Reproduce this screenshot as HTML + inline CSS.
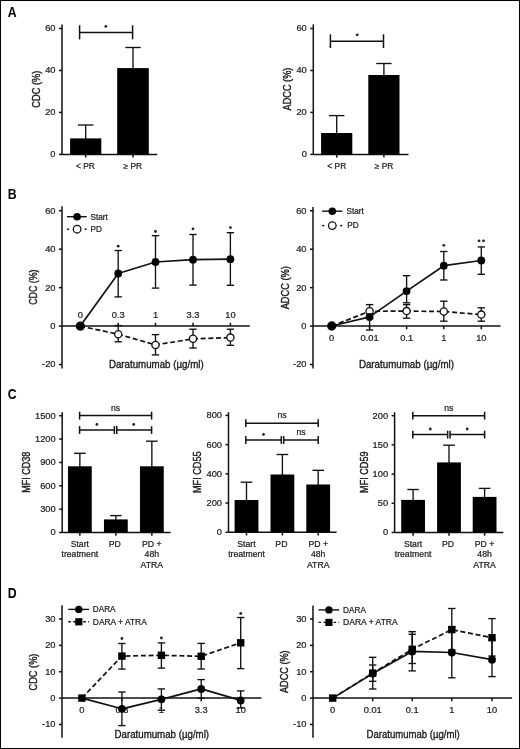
<!DOCTYPE html>
<html><head><meta charset="utf-8"><title>Figure</title>
<style>
html,body{margin:0;padding:0;background:#fff;}
body{width:520px;height:749px;overflow:hidden;}
svg{display:block;will-change:transform;font-family:"Liberation Sans",sans-serif;}
text{stroke:#1a1a1a;stroke-width:0.22px;}
</style></head><body>
<svg width="520" height="749" viewBox="0 0 520 749">
<rect x="0" y="0" width="520" height="749" fill="#fff"/>
<text transform="translate(7.8 16.8) scale(0.86 1)" font-size="14.3" font-weight="bold" fill="#000" style="stroke:none">A</text>
<text transform="translate(7.8 198.9) scale(0.86 1)" font-size="14.3" font-weight="bold" fill="#000" style="stroke:none">B</text>
<text transform="translate(7.8 399.3) scale(0.86 1)" font-size="14.3" font-weight="bold" fill="#000" style="stroke:none">C</text>
<text transform="translate(7.8 597.8) scale(0.86 1)" font-size="14.3" font-weight="bold" fill="#000" style="stroke:none">D</text>
<line x1="62" y1="24.4" x2="62" y2="154.4" stroke="#111" stroke-width="1.5" stroke-linecap="butt"/>
<line x1="59" y1="154.4" x2="62" y2="154.4" stroke="#111" stroke-width="1.5" stroke-linecap="butt"/>
<text x="55.5" y="157.28" font-size="9.3" text-anchor="end" fill="#1a1a1a">0</text>
<line x1="59" y1="112.43" x2="62" y2="112.43" stroke="#111" stroke-width="1.5" stroke-linecap="butt"/>
<text x="55.5" y="115.32" font-size="9.3" text-anchor="end" fill="#1a1a1a">20</text>
<line x1="59" y1="70.47" x2="62" y2="70.47" stroke="#111" stroke-width="1.5" stroke-linecap="butt"/>
<text x="55.5" y="73.35" font-size="9.3" text-anchor="end" fill="#1a1a1a">40</text>
<line x1="59" y1="28.5" x2="62" y2="28.5" stroke="#111" stroke-width="1.5" stroke-linecap="butt"/>
<text x="55.5" y="31.38" font-size="9.3" text-anchor="end" fill="#1a1a1a">60</text>
<line x1="62" y1="154.4" x2="157.2" y2="154.4" stroke="#111" stroke-width="1.5" stroke-linecap="butt"/>
<line x1="85.7" y1="154.4" x2="85.7" y2="157.6" stroke="#111" stroke-width="1.5" stroke-linecap="butt"/>
<line x1="85.7" y1="125" x2="85.7" y2="139.4" stroke="#111" stroke-width="1.35" stroke-linecap="butt"/>
<line x1="78" y1="125" x2="93.4" y2="125" stroke="#111" stroke-width="1.35" stroke-linecap="butt"/>
<rect x="70.1" y="138.4" width="31.2" height="16" fill="#000"/>
<line x1="133" y1="154.4" x2="133" y2="157.6" stroke="#111" stroke-width="1.5" stroke-linecap="butt"/>
<line x1="133" y1="47.5" x2="133" y2="69.1" stroke="#111" stroke-width="1.35" stroke-linecap="butt"/>
<line x1="125.3" y1="47.5" x2="140.7" y2="47.5" stroke="#111" stroke-width="1.35" stroke-linecap="butt"/>
<rect x="117.2" y="68.1" width="31.6" height="86.3" fill="#000"/>
<line x1="79.6" y1="32.4" x2="132.6" y2="32.4" stroke="#111" stroke-width="1.5" stroke-linecap="butt"/>
<line x1="79.6" y1="25.3" x2="79.6" y2="39.4" stroke="#111" stroke-width="1.5" stroke-linecap="butt"/>
<line x1="132.6" y1="25.3" x2="132.6" y2="39.4" stroke="#111" stroke-width="1.5" stroke-linecap="butt"/>
<circle cx="105.8" cy="26.4" r="1.4" fill="#222"/>
<text x="85.5" y="168.6" font-size="8.4" text-anchor="middle" fill="#1a1a1a">&lt; PR</text>
<text x="132.8" y="168.6" font-size="8.4" text-anchor="middle" fill="#1a1a1a">≥ PR</text>
<text x="39.92" y="89.2" font-size="10.8" text-anchor="middle" fill="#1a1a1a" textLength="37" lengthAdjust="spacingAndGlyphs" transform="rotate(-90 39.92 89.2)" style="stroke-width:0.4px">CDC (%)</text>
<line x1="313.3" y1="24.4" x2="313.3" y2="154.4" stroke="#111" stroke-width="1.5" stroke-linecap="butt"/>
<line x1="310.3" y1="154.4" x2="313.3" y2="154.4" stroke="#111" stroke-width="1.5" stroke-linecap="butt"/>
<text x="306.8" y="157.28" font-size="9.3" text-anchor="end" fill="#1a1a1a">0</text>
<line x1="310.3" y1="112.43" x2="313.3" y2="112.43" stroke="#111" stroke-width="1.5" stroke-linecap="butt"/>
<text x="306.8" y="115.32" font-size="9.3" text-anchor="end" fill="#1a1a1a">20</text>
<line x1="310.3" y1="70.47" x2="313.3" y2="70.47" stroke="#111" stroke-width="1.5" stroke-linecap="butt"/>
<text x="306.8" y="73.35" font-size="9.3" text-anchor="end" fill="#1a1a1a">40</text>
<line x1="310.3" y1="28.5" x2="313.3" y2="28.5" stroke="#111" stroke-width="1.5" stroke-linecap="butt"/>
<text x="306.8" y="31.38" font-size="9.3" text-anchor="end" fill="#1a1a1a">60</text>
<line x1="313.3" y1="154.4" x2="408.5" y2="154.4" stroke="#111" stroke-width="1.5" stroke-linecap="butt"/>
<line x1="336.7" y1="154.4" x2="336.7" y2="157.6" stroke="#111" stroke-width="1.5" stroke-linecap="butt"/>
<line x1="336.7" y1="115.6" x2="336.7" y2="134" stroke="#111" stroke-width="1.35" stroke-linecap="butt"/>
<line x1="329" y1="115.6" x2="344.4" y2="115.6" stroke="#111" stroke-width="1.35" stroke-linecap="butt"/>
<rect x="321.1" y="133" width="31.2" height="21.4" fill="#000"/>
<line x1="383.9" y1="154.4" x2="383.9" y2="157.6" stroke="#111" stroke-width="1.5" stroke-linecap="butt"/>
<line x1="383.9" y1="63.5" x2="383.9" y2="76" stroke="#111" stroke-width="1.35" stroke-linecap="butt"/>
<line x1="376.2" y1="63.5" x2="391.6" y2="63.5" stroke="#111" stroke-width="1.35" stroke-linecap="butt"/>
<rect x="368.3" y="75" width="31.2" height="79.4" fill="#000"/>
<line x1="330.4" y1="41.2" x2="383.5" y2="41.2" stroke="#111" stroke-width="1.5" stroke-linecap="butt"/>
<line x1="330.4" y1="34.3" x2="330.4" y2="48" stroke="#111" stroke-width="1.5" stroke-linecap="butt"/>
<line x1="383.5" y1="34.3" x2="383.5" y2="48" stroke="#111" stroke-width="1.5" stroke-linecap="butt"/>
<circle cx="357.2" cy="34.8" r="1.4" fill="#222"/>
<text x="336.8" y="168.6" font-size="8.4" text-anchor="middle" fill="#1a1a1a">&lt; PR</text>
<text x="384.1" y="168.6" font-size="8.4" text-anchor="middle" fill="#1a1a1a">≥ PR</text>
<text x="291.02" y="89" font-size="10.8" text-anchor="middle" fill="#1a1a1a" textLength="42.8" lengthAdjust="spacingAndGlyphs" transform="rotate(-90 291.02 89)" style="stroke-width:0.4px">ADCC (%)</text>
<line x1="62" y1="206.3" x2="62" y2="368.5" stroke="#111" stroke-width="1.5" stroke-linecap="butt"/>
<line x1="59" y1="364.55" x2="62" y2="364.55" stroke="#111" stroke-width="1.5" stroke-linecap="butt"/>
<text x="55.5" y="367.43" font-size="9.3" text-anchor="end" fill="#1a1a1a">-20</text>
<line x1="59" y1="326.1" x2="62" y2="326.1" stroke="#111" stroke-width="1.5" stroke-linecap="butt"/>
<text x="55.5" y="328.98" font-size="9.3" text-anchor="end" fill="#1a1a1a">0</text>
<line x1="59" y1="287.65" x2="62" y2="287.65" stroke="#111" stroke-width="1.5" stroke-linecap="butt"/>
<text x="55.5" y="290.53" font-size="9.3" text-anchor="end" fill="#1a1a1a">20</text>
<line x1="59" y1="249.2" x2="62" y2="249.2" stroke="#111" stroke-width="1.5" stroke-linecap="butt"/>
<text x="55.5" y="252.08" font-size="9.3" text-anchor="end" fill="#1a1a1a">40</text>
<line x1="59" y1="210.75" x2="62" y2="210.75" stroke="#111" stroke-width="1.5" stroke-linecap="butt"/>
<text x="55.5" y="213.63" font-size="9.3" text-anchor="end" fill="#1a1a1a">60</text>
<line x1="62" y1="326.1" x2="249.8" y2="326.1" stroke="#111" stroke-width="1.5" stroke-linecap="butt"/>
<line x1="118.2" y1="322.8" x2="118.2" y2="326.1" stroke="#111" stroke-width="1.5" stroke-linecap="butt"/>
<line x1="155.5" y1="322.8" x2="155.5" y2="326.1" stroke="#111" stroke-width="1.5" stroke-linecap="butt"/>
<line x1="193" y1="322.8" x2="193" y2="326.1" stroke="#111" stroke-width="1.5" stroke-linecap="butt"/>
<line x1="230.4" y1="322.8" x2="230.4" y2="326.1" stroke="#111" stroke-width="1.5" stroke-linecap="butt"/>
<text x="80.3" y="317.6" font-size="9.3" text-anchor="middle" fill="#1a1a1a">0</text>
<text x="118.2" y="317.6" font-size="9.3" text-anchor="middle" fill="#1a1a1a">0.3</text>
<text x="155.5" y="317.6" font-size="9.3" text-anchor="middle" fill="#1a1a1a">1</text>
<text x="193" y="317.6" font-size="9.3" text-anchor="middle" fill="#1a1a1a">3.3</text>
<text x="230.4" y="317.6" font-size="9.3" text-anchor="middle" fill="#1a1a1a">10</text>
<line x1="118.2" y1="250.5" x2="118.2" y2="296.9" stroke="#111" stroke-width="1.35" stroke-linecap="butt"/>
<line x1="114.5" y1="250.5" x2="121.9" y2="250.5" stroke="#111" stroke-width="1.35" stroke-linecap="butt"/>
<line x1="114.5" y1="296.9" x2="121.9" y2="296.9" stroke="#111" stroke-width="1.35" stroke-linecap="butt"/>
<line x1="155.5" y1="235.7" x2="155.5" y2="288.1" stroke="#111" stroke-width="1.35" stroke-linecap="butt"/>
<line x1="151.8" y1="235.7" x2="159.2" y2="235.7" stroke="#111" stroke-width="1.35" stroke-linecap="butt"/>
<line x1="151.8" y1="288.1" x2="159.2" y2="288.1" stroke="#111" stroke-width="1.35" stroke-linecap="butt"/>
<line x1="193" y1="234.5" x2="193" y2="285.1" stroke="#111" stroke-width="1.35" stroke-linecap="butt"/>
<line x1="189.3" y1="234.5" x2="196.7" y2="234.5" stroke="#111" stroke-width="1.35" stroke-linecap="butt"/>
<line x1="189.3" y1="285.1" x2="196.7" y2="285.1" stroke="#111" stroke-width="1.35" stroke-linecap="butt"/>
<line x1="230.4" y1="232.7" x2="230.4" y2="285.3" stroke="#111" stroke-width="1.35" stroke-linecap="butt"/>
<line x1="226.7" y1="232.7" x2="234.1" y2="232.7" stroke="#111" stroke-width="1.35" stroke-linecap="butt"/>
<line x1="226.7" y1="285.3" x2="234.1" y2="285.3" stroke="#111" stroke-width="1.35" stroke-linecap="butt"/>
<line x1="118.2" y1="325.6" x2="118.2" y2="341.8" stroke="#111" stroke-width="1.35" stroke-linecap="butt"/>
<line x1="114.5" y1="325.6" x2="121.9" y2="325.6" stroke="#111" stroke-width="1.35" stroke-linecap="butt"/>
<line x1="114.5" y1="341.8" x2="121.9" y2="341.8" stroke="#111" stroke-width="1.35" stroke-linecap="butt"/>
<line x1="155.5" y1="334.6" x2="155.5" y2="354.9" stroke="#111" stroke-width="1.35" stroke-linecap="butt"/>
<line x1="151.8" y1="334.6" x2="159.2" y2="334.6" stroke="#111" stroke-width="1.35" stroke-linecap="butt"/>
<line x1="151.8" y1="354.9" x2="159.2" y2="354.9" stroke="#111" stroke-width="1.35" stroke-linecap="butt"/>
<line x1="193" y1="329.2" x2="193" y2="348" stroke="#111" stroke-width="1.35" stroke-linecap="butt"/>
<line x1="189.3" y1="329.2" x2="196.7" y2="329.2" stroke="#111" stroke-width="1.35" stroke-linecap="butt"/>
<line x1="189.3" y1="348" x2="196.7" y2="348" stroke="#111" stroke-width="1.35" stroke-linecap="butt"/>
<line x1="230.4" y1="329.2" x2="230.4" y2="345.3" stroke="#111" stroke-width="1.35" stroke-linecap="butt"/>
<line x1="226.7" y1="329.2" x2="234.1" y2="329.2" stroke="#111" stroke-width="1.35" stroke-linecap="butt"/>
<line x1="226.7" y1="345.3" x2="234.1" y2="345.3" stroke="#111" stroke-width="1.35" stroke-linecap="butt"/>
<polyline points="80.3,326.1 118.2,334.2 155.5,344.9 193,338.8 230.4,337.6" fill="none" stroke="#111" stroke-width="1.7" stroke-linejoin="round" stroke-dasharray="5 2.7"/>
<polyline points="80.3,326.1 118.2,273.5 155.5,262 193,259.7 230.4,259.2" fill="none" stroke="#111" stroke-width="1.7" stroke-linejoin="round"/>
<circle cx="118.2" cy="334.2" r="3.6" fill="#fff" stroke="#111" stroke-width="1.3"/>
<circle cx="155.5" cy="344.9" r="3.6" fill="#fff" stroke="#111" stroke-width="1.3"/>
<circle cx="193" cy="338.8" r="3.6" fill="#fff" stroke="#111" stroke-width="1.3"/>
<circle cx="230.4" cy="337.6" r="3.6" fill="#fff" stroke="#111" stroke-width="1.3"/>
<circle cx="80.3" cy="326.1" r="4" fill="#fff" stroke="#111" stroke-width="1.3"/>
<circle cx="80.3" cy="326.1" r="3.9" fill="#000"/>
<circle cx="118.2" cy="273.5" r="3.9" fill="#000"/>
<circle cx="155.5" cy="262" r="3.9" fill="#000"/>
<circle cx="193" cy="259.7" r="3.9" fill="#000"/>
<circle cx="230.4" cy="259.2" r="3.9" fill="#000"/>
<circle cx="118.2" cy="246.2" r="1.4" fill="#222"/>
<circle cx="155.5" cy="231.5" r="1.4" fill="#222"/>
<circle cx="193" cy="228.8" r="1.4" fill="#222"/>
<circle cx="230.4" cy="227.6" r="1.4" fill="#222"/>
<line x1="67" y1="216.7" x2="86.7" y2="216.7" stroke="#111" stroke-width="1.4" stroke-linecap="butt"/>
<circle cx="77.1" cy="216.7" r="3.8" fill="#000"/>
<text x="90.5" y="219.52" font-size="8.2" text-anchor="start" fill="#1a1a1a">Start</text>
<line x1="67" y1="229.2" x2="69.2" y2="229.2" stroke="#111" stroke-width="1.4" stroke-linecap="butt"/>
<line x1="84.5" y1="229.2" x2="86.7" y2="229.2" stroke="#111" stroke-width="1.4" stroke-linecap="butt"/>
<circle cx="77.1" cy="229.2" r="3.8" fill="#fff" stroke="#111" stroke-width="1.3"/>
<text x="90.5" y="232.02" font-size="8.2" text-anchor="start" fill="#1a1a1a">PD</text>
<text x="108.9" y="368" font-size="10.8" text-anchor="start" fill="#1a1a1a" textLength="94.8" lengthAdjust="spacingAndGlyphs" style="stroke-width:0.35px">Daratumumab (µg/ml)</text>
<text x="36.72" y="287.2" font-size="10.8" text-anchor="middle" fill="#1a1a1a" textLength="35.3" lengthAdjust="spacingAndGlyphs" transform="rotate(-90 36.72 287.2)" style="stroke-width:0.4px">CDC (%)</text>
<line x1="313" y1="207" x2="313" y2="368.5" stroke="#111" stroke-width="1.5" stroke-linecap="butt"/>
<line x1="310" y1="364.55" x2="313" y2="364.55" stroke="#111" stroke-width="1.5" stroke-linecap="butt"/>
<text x="306.5" y="367.43" font-size="9.3" text-anchor="end" fill="#1a1a1a">-20</text>
<line x1="310" y1="326.1" x2="313" y2="326.1" stroke="#111" stroke-width="1.5" stroke-linecap="butt"/>
<text x="306.5" y="328.98" font-size="9.3" text-anchor="end" fill="#1a1a1a">0</text>
<line x1="310" y1="287.65" x2="313" y2="287.65" stroke="#111" stroke-width="1.5" stroke-linecap="butt"/>
<text x="306.5" y="290.53" font-size="9.3" text-anchor="end" fill="#1a1a1a">20</text>
<line x1="310" y1="249.2" x2="313" y2="249.2" stroke="#111" stroke-width="1.5" stroke-linecap="butt"/>
<text x="306.5" y="252.08" font-size="9.3" text-anchor="end" fill="#1a1a1a">40</text>
<line x1="310" y1="210.75" x2="313" y2="210.75" stroke="#111" stroke-width="1.5" stroke-linecap="butt"/>
<text x="306.5" y="213.63" font-size="9.3" text-anchor="end" fill="#1a1a1a">60</text>
<line x1="313" y1="326.1" x2="500.6" y2="326.1" stroke="#111" stroke-width="1.5" stroke-linecap="butt"/>
<line x1="331.7" y1="326.1" x2="331.7" y2="329.3" stroke="#111" stroke-width="1.5" stroke-linecap="butt"/>
<line x1="369.6" y1="326.1" x2="369.6" y2="329.3" stroke="#111" stroke-width="1.5" stroke-linecap="butt"/>
<line x1="406.6" y1="326.1" x2="406.6" y2="329.3" stroke="#111" stroke-width="1.5" stroke-linecap="butt"/>
<line x1="443.8" y1="326.1" x2="443.8" y2="329.3" stroke="#111" stroke-width="1.5" stroke-linecap="butt"/>
<line x1="481.3" y1="326.1" x2="481.3" y2="329.3" stroke="#111" stroke-width="1.5" stroke-linecap="butt"/>
<text x="331.7" y="340.9" font-size="9.3" text-anchor="middle" fill="#1a1a1a">0</text>
<text x="369.6" y="340.9" font-size="9.3" text-anchor="middle" fill="#1a1a1a">0.01</text>
<text x="406.6" y="340.9" font-size="9.3" text-anchor="middle" fill="#1a1a1a">0.1</text>
<text x="443.8" y="340.9" font-size="9.3" text-anchor="middle" fill="#1a1a1a">1</text>
<text x="481.3" y="340.9" font-size="9.3" text-anchor="middle" fill="#1a1a1a">10</text>
<line x1="369.6" y1="311" x2="369.6" y2="330" stroke="#111" stroke-width="1.35" stroke-linecap="butt"/>
<line x1="365.9" y1="311" x2="373.3" y2="311" stroke="#111" stroke-width="1.35" stroke-linecap="butt"/>
<line x1="365.9" y1="330" x2="373.3" y2="330" stroke="#111" stroke-width="1.35" stroke-linecap="butt"/>
<line x1="406.6" y1="275.7" x2="406.6" y2="302.8" stroke="#111" stroke-width="1.35" stroke-linecap="butt"/>
<line x1="402.9" y1="275.7" x2="410.3" y2="275.7" stroke="#111" stroke-width="1.35" stroke-linecap="butt"/>
<line x1="402.9" y1="302.8" x2="410.3" y2="302.8" stroke="#111" stroke-width="1.35" stroke-linecap="butt"/>
<line x1="443.8" y1="251.5" x2="443.8" y2="280" stroke="#111" stroke-width="1.35" stroke-linecap="butt"/>
<line x1="440.1" y1="251.5" x2="447.5" y2="251.5" stroke="#111" stroke-width="1.35" stroke-linecap="butt"/>
<line x1="440.1" y1="280" x2="447.5" y2="280" stroke="#111" stroke-width="1.35" stroke-linecap="butt"/>
<line x1="481.3" y1="246.9" x2="481.3" y2="274.3" stroke="#111" stroke-width="1.35" stroke-linecap="butt"/>
<line x1="477.6" y1="246.9" x2="485" y2="246.9" stroke="#111" stroke-width="1.35" stroke-linecap="butt"/>
<line x1="477.6" y1="274.3" x2="485" y2="274.3" stroke="#111" stroke-width="1.35" stroke-linecap="butt"/>
<line x1="369.6" y1="304.6" x2="369.6" y2="318" stroke="#111" stroke-width="1.35" stroke-linecap="butt"/>
<line x1="365.9" y1="304.6" x2="373.3" y2="304.6" stroke="#111" stroke-width="1.35" stroke-linecap="butt"/>
<line x1="365.9" y1="318" x2="373.3" y2="318" stroke="#111" stroke-width="1.35" stroke-linecap="butt"/>
<line x1="406.6" y1="304.6" x2="406.6" y2="318.2" stroke="#111" stroke-width="1.35" stroke-linecap="butt"/>
<line x1="402.9" y1="304.6" x2="410.3" y2="304.6" stroke="#111" stroke-width="1.35" stroke-linecap="butt"/>
<line x1="402.9" y1="318.2" x2="410.3" y2="318.2" stroke="#111" stroke-width="1.35" stroke-linecap="butt"/>
<line x1="443.8" y1="301.2" x2="443.8" y2="321.2" stroke="#111" stroke-width="1.35" stroke-linecap="butt"/>
<line x1="440.1" y1="301.2" x2="447.5" y2="301.2" stroke="#111" stroke-width="1.35" stroke-linecap="butt"/>
<line x1="440.1" y1="321.2" x2="447.5" y2="321.2" stroke="#111" stroke-width="1.35" stroke-linecap="butt"/>
<line x1="481.3" y1="307.8" x2="481.3" y2="321.2" stroke="#111" stroke-width="1.35" stroke-linecap="butt"/>
<line x1="477.6" y1="307.8" x2="485" y2="307.8" stroke="#111" stroke-width="1.35" stroke-linecap="butt"/>
<line x1="477.6" y1="321.2" x2="485" y2="321.2" stroke="#111" stroke-width="1.35" stroke-linecap="butt"/>
<polyline points="331.7,326 369.6,311.3 406.6,311.1 443.8,311.5 481.3,314.6" fill="none" stroke="#111" stroke-width="1.7" stroke-linejoin="round" stroke-dasharray="5 2.7"/>
<polyline points="331.7,326 369.6,316.9 406.6,291.1 443.8,265.7 481.3,260.5" fill="none" stroke="#111" stroke-width="1.7" stroke-linejoin="round"/>
<circle cx="369.6" cy="311.3" r="3.6" fill="#fff" stroke="#111" stroke-width="1.3"/>
<circle cx="406.6" cy="311.1" r="3.6" fill="#fff" stroke="#111" stroke-width="1.3"/>
<circle cx="443.8" cy="311.5" r="3.6" fill="#fff" stroke="#111" stroke-width="1.3"/>
<circle cx="481.3" cy="314.6" r="3.6" fill="#fff" stroke="#111" stroke-width="1.3"/>
<circle cx="331.7" cy="326" r="4" fill="#fff" stroke="#111" stroke-width="1.3"/>
<circle cx="331.7" cy="326" r="3.9" fill="#000"/>
<circle cx="369.6" cy="316.9" r="3.9" fill="#000"/>
<circle cx="406.6" cy="291.1" r="3.9" fill="#000"/>
<circle cx="443.8" cy="265.7" r="3.9" fill="#000"/>
<circle cx="481.3" cy="260.5" r="3.9" fill="#000"/>
<circle cx="443.8" cy="245.3" r="1.4" fill="#222"/>
<circle cx="479.1" cy="240.8" r="1.4" fill="#222"/>
<circle cx="483.5" cy="240.8" r="1.4" fill="#222"/>
<line x1="322.1" y1="211.2" x2="342.3" y2="211.2" stroke="#111" stroke-width="1.4" stroke-linecap="butt"/>
<circle cx="332.3" cy="211.2" r="3.8" fill="#000"/>
<text x="346.5" y="214.02" font-size="8.2" text-anchor="start" fill="#1a1a1a">Start</text>
<line x1="322.1" y1="225.6" x2="324.3" y2="225.6" stroke="#111" stroke-width="1.4" stroke-linecap="butt"/>
<line x1="340.1" y1="225.6" x2="342.3" y2="225.6" stroke="#111" stroke-width="1.4" stroke-linecap="butt"/>
<circle cx="332.3" cy="225.6" r="3.8" fill="#fff" stroke="#111" stroke-width="1.3"/>
<text x="347.2" y="228.42" font-size="8.2" text-anchor="start" fill="#1a1a1a">PD</text>
<text x="358.9" y="368" font-size="10.8" text-anchor="start" fill="#1a1a1a" textLength="95.1" lengthAdjust="spacingAndGlyphs" style="stroke-width:0.35px">Daratumumab (µg/ml)</text>
<text x="288.62" y="287.7" font-size="10.8" text-anchor="middle" fill="#1a1a1a" textLength="43.3" lengthAdjust="spacingAndGlyphs" transform="rotate(-90 288.62 287.7)" style="stroke-width:0.4px">ADCC (%)</text>
<line x1="62.2" y1="412.2" x2="62.2" y2="532.5" stroke="#111" stroke-width="1.5" stroke-linecap="butt"/>
<line x1="59.2" y1="532.5" x2="62.2" y2="532.5" stroke="#111" stroke-width="1.5" stroke-linecap="butt"/>
<text x="55.7" y="535.38" font-size="9.3" text-anchor="end" fill="#1a1a1a">0</text>
<line x1="59.2" y1="509.14" x2="62.2" y2="509.14" stroke="#111" stroke-width="1.5" stroke-linecap="butt"/>
<text x="55.7" y="512.02" font-size="9.3" text-anchor="end" fill="#1a1a1a">300</text>
<line x1="59.2" y1="485.78" x2="62.2" y2="485.78" stroke="#111" stroke-width="1.5" stroke-linecap="butt"/>
<text x="55.7" y="488.66" font-size="9.3" text-anchor="end" fill="#1a1a1a">600</text>
<line x1="59.2" y1="462.42" x2="62.2" y2="462.42" stroke="#111" stroke-width="1.5" stroke-linecap="butt"/>
<text x="55.7" y="465.3" font-size="9.3" text-anchor="end" fill="#1a1a1a">900</text>
<line x1="59.2" y1="439.06" x2="62.2" y2="439.06" stroke="#111" stroke-width="1.5" stroke-linecap="butt"/>
<text x="55.7" y="441.94" font-size="9.3" text-anchor="end" fill="#1a1a1a">1200</text>
<line x1="59.2" y1="415.7" x2="62.2" y2="415.7" stroke="#111" stroke-width="1.5" stroke-linecap="butt"/>
<text x="55.7" y="418.58" font-size="9.3" text-anchor="end" fill="#1a1a1a">1500</text>
<line x1="62.2" y1="532.5" x2="170.6" y2="532.5" stroke="#111" stroke-width="1.5" stroke-linecap="butt"/>
<line x1="79.85" y1="532.5" x2="79.85" y2="535.7" stroke="#111" stroke-width="1.5" stroke-linecap="butt"/>
<line x1="79.85" y1="453.3" x2="79.85" y2="467.3" stroke="#111" stroke-width="1.35" stroke-linecap="butt"/>
<line x1="74.05" y1="453.3" x2="85.65" y2="453.3" stroke="#111" stroke-width="1.35" stroke-linecap="butt"/>
<rect x="67.95" y="466.3" width="23.8" height="66.2" fill="#000"/>
<line x1="115.85" y1="532.5" x2="115.85" y2="535.7" stroke="#111" stroke-width="1.5" stroke-linecap="butt"/>
<line x1="115.85" y1="515.6" x2="115.85" y2="520.4" stroke="#111" stroke-width="1.35" stroke-linecap="butt"/>
<line x1="110.05" y1="515.6" x2="121.65" y2="515.6" stroke="#111" stroke-width="1.35" stroke-linecap="butt"/>
<rect x="103.95" y="519.4" width="23.8" height="13.1" fill="#000"/>
<line x1="151.85" y1="532.5" x2="151.85" y2="535.7" stroke="#111" stroke-width="1.5" stroke-linecap="butt"/>
<line x1="151.85" y1="441.2" x2="151.85" y2="467.3" stroke="#111" stroke-width="1.35" stroke-linecap="butt"/>
<line x1="146.05" y1="441.2" x2="157.65" y2="441.2" stroke="#111" stroke-width="1.35" stroke-linecap="butt"/>
<rect x="139.95" y="466.3" width="23.8" height="66.2" fill="#000"/>
<line x1="79.6" y1="415.6" x2="151.6" y2="415.6" stroke="#111" stroke-width="1.5" stroke-linecap="butt"/>
<line x1="79.6" y1="411.7" x2="79.6" y2="419.5" stroke="#111" stroke-width="1.5" stroke-linecap="butt"/>
<line x1="151.6" y1="411.7" x2="151.6" y2="419.5" stroke="#111" stroke-width="1.5" stroke-linecap="butt"/>
<line x1="79.6" y1="430" x2="151.6" y2="430" stroke="#111" stroke-width="1.5" stroke-linecap="butt"/>
<line x1="79.6" y1="426.1" x2="79.6" y2="433.9" stroke="#111" stroke-width="1.5" stroke-linecap="butt"/>
<line x1="151.6" y1="426.1" x2="151.6" y2="433.9" stroke="#111" stroke-width="1.5" stroke-linecap="butt"/>
<rect x="114.65" y="426.1" width="1.8" height="7.8" fill="#fff"/>
<line x1="114.35" y1="426.1" x2="114.35" y2="433.9" stroke="#111" stroke-width="1.5" stroke-linecap="butt"/>
<line x1="116.75" y1="426.1" x2="116.75" y2="433.9" stroke="#111" stroke-width="1.5" stroke-linecap="butt"/>
<text x="115.6" y="410.6" font-size="8.6" text-anchor="middle" fill="#1a1a1a">ns</text>
<circle cx="96.9" cy="424.4" r="1.4" fill="#222"/>
<circle cx="133.7" cy="424.4" r="1.4" fill="#222"/>
<text x="79.85" y="546.9" font-size="8.7" text-anchor="middle" fill="#1a1a1a">Start</text>
<text x="79.85" y="557.3" font-size="8.7" text-anchor="middle" fill="#1a1a1a">treatment</text>
<text x="114.85" y="546.9" font-size="8.7" text-anchor="middle" fill="#1a1a1a">PD</text>
<text x="151.85" y="546.9" font-size="8.7" text-anchor="middle" fill="#1a1a1a">PD +</text>
<text x="151.85" y="557.3" font-size="8.7" text-anchor="middle" fill="#1a1a1a">48h</text>
<text x="151.85" y="567.9" font-size="8.7" text-anchor="middle" fill="#1a1a1a">ATRA</text>
<text x="29.72" y="472.2" font-size="10.8" text-anchor="middle" fill="#1a1a1a" textLength="41.2" lengthAdjust="spacingAndGlyphs" transform="rotate(-90 29.72 472.2)" style="stroke-width:0.4px">MFI CD38</text>
<line x1="228.5" y1="412.2" x2="228.5" y2="532.3" stroke="#111" stroke-width="1.5" stroke-linecap="butt"/>
<line x1="225.5" y1="532.3" x2="228.5" y2="532.3" stroke="#111" stroke-width="1.5" stroke-linecap="butt"/>
<text x="222" y="535.18" font-size="9.3" text-anchor="end" fill="#1a1a1a">0</text>
<line x1="225.5" y1="503.07" x2="228.5" y2="503.07" stroke="#111" stroke-width="1.5" stroke-linecap="butt"/>
<text x="222" y="505.96" font-size="9.3" text-anchor="end" fill="#1a1a1a">200</text>
<line x1="225.5" y1="473.85" x2="228.5" y2="473.85" stroke="#111" stroke-width="1.5" stroke-linecap="butt"/>
<text x="222" y="476.73" font-size="9.3" text-anchor="end" fill="#1a1a1a">400</text>
<line x1="225.5" y1="444.62" x2="228.5" y2="444.62" stroke="#111" stroke-width="1.5" stroke-linecap="butt"/>
<text x="222" y="447.51" font-size="9.3" text-anchor="end" fill="#1a1a1a">600</text>
<line x1="225.5" y1="415.4" x2="228.5" y2="415.4" stroke="#111" stroke-width="1.5" stroke-linecap="butt"/>
<text x="222" y="418.28" font-size="9.3" text-anchor="end" fill="#1a1a1a">800</text>
<line x1="228.5" y1="532.3" x2="336.6" y2="532.3" stroke="#111" stroke-width="1.5" stroke-linecap="butt"/>
<line x1="246.5" y1="532.3" x2="246.5" y2="535.5" stroke="#111" stroke-width="1.5" stroke-linecap="butt"/>
<line x1="246.5" y1="482.2" x2="246.5" y2="501" stroke="#111" stroke-width="1.35" stroke-linecap="butt"/>
<line x1="240.7" y1="482.2" x2="252.3" y2="482.2" stroke="#111" stroke-width="1.35" stroke-linecap="butt"/>
<rect x="234.6" y="500" width="23.8" height="32.3" fill="#000"/>
<line x1="282.4" y1="532.3" x2="282.4" y2="535.5" stroke="#111" stroke-width="1.5" stroke-linecap="butt"/>
<line x1="282.4" y1="454.5" x2="282.4" y2="475.5" stroke="#111" stroke-width="1.35" stroke-linecap="butt"/>
<line x1="276.6" y1="454.5" x2="288.2" y2="454.5" stroke="#111" stroke-width="1.35" stroke-linecap="butt"/>
<rect x="270.5" y="474.5" width="23.8" height="57.8" fill="#000"/>
<line x1="318.2" y1="532.3" x2="318.2" y2="535.5" stroke="#111" stroke-width="1.5" stroke-linecap="butt"/>
<line x1="318.2" y1="470.3" x2="318.2" y2="485.5" stroke="#111" stroke-width="1.35" stroke-linecap="butt"/>
<line x1="312.4" y1="470.3" x2="324" y2="470.3" stroke="#111" stroke-width="1.35" stroke-linecap="butt"/>
<rect x="306.3" y="484.5" width="23.8" height="47.8" fill="#000"/>
<line x1="245.8" y1="423.2" x2="318.2" y2="423.2" stroke="#111" stroke-width="1.5" stroke-linecap="butt"/>
<line x1="245.8" y1="419.3" x2="245.8" y2="427.1" stroke="#111" stroke-width="1.5" stroke-linecap="butt"/>
<line x1="318.2" y1="419.3" x2="318.2" y2="427.1" stroke="#111" stroke-width="1.5" stroke-linecap="butt"/>
<line x1="245.8" y1="440" x2="318.2" y2="440" stroke="#111" stroke-width="1.5" stroke-linecap="butt"/>
<line x1="245.8" y1="436.1" x2="245.8" y2="443.9" stroke="#111" stroke-width="1.5" stroke-linecap="butt"/>
<line x1="318.2" y1="436.1" x2="318.2" y2="443.9" stroke="#111" stroke-width="1.5" stroke-linecap="butt"/>
<rect x="281.6" y="436.1" width="1.8" height="7.8" fill="#fff"/>
<line x1="281.3" y1="436.1" x2="281.3" y2="443.9" stroke="#111" stroke-width="1.5" stroke-linecap="butt"/>
<line x1="283.7" y1="436.1" x2="283.7" y2="443.9" stroke="#111" stroke-width="1.5" stroke-linecap="butt"/>
<text x="282" y="418.2" font-size="8.6" text-anchor="middle" fill="#1a1a1a">ns</text>
<circle cx="263.5" cy="434.4" r="1.4" fill="#222"/>
<text x="301" y="435.4" font-size="8.6" text-anchor="middle" fill="#1a1a1a">ns</text>
<text x="246.5" y="546.9" font-size="8.7" text-anchor="middle" fill="#1a1a1a">Start</text>
<text x="246.5" y="557.3" font-size="8.7" text-anchor="middle" fill="#1a1a1a">treatment</text>
<text x="281.4" y="546.9" font-size="8.7" text-anchor="middle" fill="#1a1a1a">PD</text>
<text x="318.2" y="546.9" font-size="8.7" text-anchor="middle" fill="#1a1a1a">PD +</text>
<text x="318.2" y="557.3" font-size="8.7" text-anchor="middle" fill="#1a1a1a">48h</text>
<text x="318.2" y="567.9" font-size="8.7" text-anchor="middle" fill="#1a1a1a">ATRA</text>
<text x="200.52" y="472.2" font-size="10.8" text-anchor="middle" fill="#1a1a1a" textLength="41.8" lengthAdjust="spacingAndGlyphs" transform="rotate(-90 200.52 472.2)" style="stroke-width:0.4px">MFI CD55</text>
<line x1="394.6" y1="412.2" x2="394.6" y2="532.5" stroke="#111" stroke-width="1.5" stroke-linecap="butt"/>
<line x1="391.6" y1="532.5" x2="394.6" y2="532.5" stroke="#111" stroke-width="1.5" stroke-linecap="butt"/>
<text x="388.1" y="535.38" font-size="9.3" text-anchor="end" fill="#1a1a1a">0</text>
<line x1="391.6" y1="503.3" x2="394.6" y2="503.3" stroke="#111" stroke-width="1.5" stroke-linecap="butt"/>
<text x="388.1" y="506.18" font-size="9.3" text-anchor="end" fill="#1a1a1a">50</text>
<line x1="391.6" y1="474.1" x2="394.6" y2="474.1" stroke="#111" stroke-width="1.5" stroke-linecap="butt"/>
<text x="388.1" y="476.98" font-size="9.3" text-anchor="end" fill="#1a1a1a">100</text>
<line x1="391.6" y1="444.9" x2="394.6" y2="444.9" stroke="#111" stroke-width="1.5" stroke-linecap="butt"/>
<text x="388.1" y="447.78" font-size="9.3" text-anchor="end" fill="#1a1a1a">150</text>
<line x1="391.6" y1="415.7" x2="394.6" y2="415.7" stroke="#111" stroke-width="1.5" stroke-linecap="butt"/>
<text x="388.1" y="418.58" font-size="9.3" text-anchor="end" fill="#1a1a1a">200</text>
<line x1="394.6" y1="532.5" x2="503.4" y2="532.5" stroke="#111" stroke-width="1.5" stroke-linecap="butt"/>
<line x1="413.1" y1="532.5" x2="413.1" y2="535.7" stroke="#111" stroke-width="1.5" stroke-linecap="butt"/>
<line x1="413.1" y1="489.5" x2="413.1" y2="500.9" stroke="#111" stroke-width="1.35" stroke-linecap="butt"/>
<line x1="407.3" y1="489.5" x2="418.9" y2="489.5" stroke="#111" stroke-width="1.35" stroke-linecap="butt"/>
<rect x="401.2" y="499.9" width="23.8" height="32.6" fill="#000"/>
<line x1="449" y1="532.5" x2="449" y2="535.7" stroke="#111" stroke-width="1.5" stroke-linecap="butt"/>
<line x1="449" y1="445.2" x2="449" y2="463.4" stroke="#111" stroke-width="1.35" stroke-linecap="butt"/>
<line x1="443.2" y1="445.2" x2="454.8" y2="445.2" stroke="#111" stroke-width="1.35" stroke-linecap="butt"/>
<rect x="437.1" y="462.4" width="23.8" height="70.1" fill="#000"/>
<line x1="484.6" y1="532.5" x2="484.6" y2="535.7" stroke="#111" stroke-width="1.5" stroke-linecap="butt"/>
<line x1="484.6" y1="488.4" x2="484.6" y2="497.9" stroke="#111" stroke-width="1.35" stroke-linecap="butt"/>
<line x1="478.8" y1="488.4" x2="490.4" y2="488.4" stroke="#111" stroke-width="1.35" stroke-linecap="butt"/>
<rect x="472.7" y="496.9" width="23.8" height="35.6" fill="#000"/>
<line x1="412.8" y1="415.7" x2="484.6" y2="415.7" stroke="#111" stroke-width="1.5" stroke-linecap="butt"/>
<line x1="412.8" y1="411.8" x2="412.8" y2="419.6" stroke="#111" stroke-width="1.5" stroke-linecap="butt"/>
<line x1="484.6" y1="411.8" x2="484.6" y2="419.6" stroke="#111" stroke-width="1.5" stroke-linecap="butt"/>
<line x1="412.8" y1="434.6" x2="484.6" y2="434.6" stroke="#111" stroke-width="1.5" stroke-linecap="butt"/>
<line x1="412.8" y1="430.7" x2="412.8" y2="438.5" stroke="#111" stroke-width="1.5" stroke-linecap="butt"/>
<line x1="484.6" y1="430.7" x2="484.6" y2="438.5" stroke="#111" stroke-width="1.5" stroke-linecap="butt"/>
<rect x="447.95" y="430.7" width="1.8" height="7.8" fill="#fff"/>
<line x1="447.65" y1="430.7" x2="447.65" y2="438.5" stroke="#111" stroke-width="1.5" stroke-linecap="butt"/>
<line x1="450.05" y1="430.7" x2="450.05" y2="438.5" stroke="#111" stroke-width="1.5" stroke-linecap="butt"/>
<text x="448.7" y="410.7" font-size="8.6" text-anchor="middle" fill="#1a1a1a">ns</text>
<circle cx="430.3" cy="429" r="1.4" fill="#222"/>
<circle cx="467.2" cy="429" r="1.4" fill="#222"/>
<text x="413.1" y="546.9" font-size="8.7" text-anchor="middle" fill="#1a1a1a">Start</text>
<text x="413.1" y="557.3" font-size="8.7" text-anchor="middle" fill="#1a1a1a">treatment</text>
<text x="448" y="546.9" font-size="8.7" text-anchor="middle" fill="#1a1a1a">PD</text>
<text x="484.6" y="546.9" font-size="8.7" text-anchor="middle" fill="#1a1a1a">PD +</text>
<text x="484.6" y="557.3" font-size="8.7" text-anchor="middle" fill="#1a1a1a">48h</text>
<text x="484.6" y="567.9" font-size="8.7" text-anchor="middle" fill="#1a1a1a">ATRA</text>
<text x="367.72" y="472.2" font-size="10.8" text-anchor="middle" fill="#1a1a1a" textLength="41.4" lengthAdjust="spacingAndGlyphs" transform="rotate(-90 367.72 472.2)" style="stroke-width:0.4px">MFI CD59</text>
<line x1="62" y1="605.3" x2="62" y2="737.7" stroke="#111" stroke-width="1.5" stroke-linecap="butt"/>
<line x1="59" y1="724.47" x2="62" y2="724.47" stroke="#111" stroke-width="1.5" stroke-linecap="butt"/>
<text x="55.5" y="727.35" font-size="9.3" text-anchor="end" fill="#1a1a1a">-10</text>
<line x1="59" y1="698.1" x2="62" y2="698.1" stroke="#111" stroke-width="1.5" stroke-linecap="butt"/>
<text x="55.5" y="700.98" font-size="9.3" text-anchor="end" fill="#1a1a1a">0</text>
<line x1="59" y1="671.73" x2="62" y2="671.73" stroke="#111" stroke-width="1.5" stroke-linecap="butt"/>
<text x="55.5" y="674.61" font-size="9.3" text-anchor="end" fill="#1a1a1a">10</text>
<line x1="59" y1="645.36" x2="62" y2="645.36" stroke="#111" stroke-width="1.5" stroke-linecap="butt"/>
<text x="55.5" y="648.24" font-size="9.3" text-anchor="end" fill="#1a1a1a">20</text>
<line x1="59" y1="618.99" x2="62" y2="618.99" stroke="#111" stroke-width="1.5" stroke-linecap="butt"/>
<text x="55.5" y="621.87" font-size="9.3" text-anchor="end" fill="#1a1a1a">30</text>
<line x1="62" y1="698.1" x2="261.5" y2="698.1" stroke="#111" stroke-width="1.5" stroke-linecap="butt"/>
<line x1="81.9" y1="698.1" x2="81.9" y2="701.3" stroke="#111" stroke-width="1.5" stroke-linecap="butt"/>
<line x1="121.9" y1="698.1" x2="121.9" y2="701.3" stroke="#111" stroke-width="1.5" stroke-linecap="butt"/>
<line x1="161.4" y1="698.1" x2="161.4" y2="701.3" stroke="#111" stroke-width="1.5" stroke-linecap="butt"/>
<line x1="201.2" y1="698.1" x2="201.2" y2="701.3" stroke="#111" stroke-width="1.5" stroke-linecap="butt"/>
<line x1="240.7" y1="698.1" x2="240.7" y2="701.3" stroke="#111" stroke-width="1.5" stroke-linecap="butt"/>
<text x="81.9" y="712.8" font-size="9.3" text-anchor="middle" fill="#1a1a1a">0</text>
<text x="121.9" y="712.8" font-size="9.3" text-anchor="middle" fill="#1a1a1a">0.3</text>
<text x="161.4" y="712.8" font-size="9.3" text-anchor="middle" fill="#1a1a1a">1</text>
<text x="201.2" y="712.8" font-size="9.3" text-anchor="middle" fill="#1a1a1a">3.3</text>
<text x="240.7" y="712.8" font-size="9.3" text-anchor="middle" fill="#1a1a1a">10</text>
<line x1="121.9" y1="692" x2="121.9" y2="725.6" stroke="#111" stroke-width="1.35" stroke-linecap="butt"/>
<line x1="118.2" y1="692" x2="125.6" y2="692" stroke="#111" stroke-width="1.35" stroke-linecap="butt"/>
<line x1="118.2" y1="725.6" x2="125.6" y2="725.6" stroke="#111" stroke-width="1.35" stroke-linecap="butt"/>
<line x1="161.4" y1="688.9" x2="161.4" y2="710.3" stroke="#111" stroke-width="1.35" stroke-linecap="butt"/>
<line x1="157.7" y1="688.9" x2="165.1" y2="688.9" stroke="#111" stroke-width="1.35" stroke-linecap="butt"/>
<line x1="157.7" y1="710.3" x2="165.1" y2="710.3" stroke="#111" stroke-width="1.35" stroke-linecap="butt"/>
<line x1="201.2" y1="679.6" x2="201.2" y2="698.1" stroke="#111" stroke-width="1.35" stroke-linecap="butt"/>
<line x1="197.5" y1="679.6" x2="204.9" y2="679.6" stroke="#111" stroke-width="1.35" stroke-linecap="butt"/>
<line x1="197.5" y1="698.1" x2="204.9" y2="698.1" stroke="#111" stroke-width="1.35" stroke-linecap="butt"/>
<line x1="240.7" y1="690.9" x2="240.7" y2="707.9" stroke="#111" stroke-width="1.35" stroke-linecap="butt"/>
<line x1="237" y1="690.9" x2="244.4" y2="690.9" stroke="#111" stroke-width="1.35" stroke-linecap="butt"/>
<line x1="237" y1="707.9" x2="244.4" y2="707.9" stroke="#111" stroke-width="1.35" stroke-linecap="butt"/>
<line x1="121.9" y1="643.5" x2="121.9" y2="669.1" stroke="#111" stroke-width="1.35" stroke-linecap="butt"/>
<line x1="118.2" y1="643.5" x2="125.6" y2="643.5" stroke="#111" stroke-width="1.35" stroke-linecap="butt"/>
<line x1="118.2" y1="669.1" x2="125.6" y2="669.1" stroke="#111" stroke-width="1.35" stroke-linecap="butt"/>
<line x1="161.4" y1="642.9" x2="161.4" y2="668.1" stroke="#111" stroke-width="1.35" stroke-linecap="butt"/>
<line x1="157.7" y1="642.9" x2="165.1" y2="642.9" stroke="#111" stroke-width="1.35" stroke-linecap="butt"/>
<line x1="157.7" y1="668.1" x2="165.1" y2="668.1" stroke="#111" stroke-width="1.35" stroke-linecap="butt"/>
<line x1="201.2" y1="643.4" x2="201.2" y2="669" stroke="#111" stroke-width="1.35" stroke-linecap="butt"/>
<line x1="197.5" y1="643.4" x2="204.9" y2="643.4" stroke="#111" stroke-width="1.35" stroke-linecap="butt"/>
<line x1="197.5" y1="669" x2="204.9" y2="669" stroke="#111" stroke-width="1.35" stroke-linecap="butt"/>
<line x1="240.7" y1="617.5" x2="240.7" y2="668.6" stroke="#111" stroke-width="1.35" stroke-linecap="butt"/>
<line x1="237" y1="617.5" x2="244.4" y2="617.5" stroke="#111" stroke-width="1.35" stroke-linecap="butt"/>
<line x1="237" y1="668.6" x2="244.4" y2="668.6" stroke="#111" stroke-width="1.35" stroke-linecap="butt"/>
<polyline points="81.9,698.1 121.9,656.1 161.4,655.3 201.2,656.3 240.7,642.8" fill="none" stroke="#111" stroke-width="1.7" stroke-linejoin="round" stroke-dasharray="5 2.7"/>
<polyline points="81.9,698.1 121.9,708.8 161.4,699.3 201.2,688.9 240.7,700.4" fill="none" stroke="#111" stroke-width="1.7" stroke-linejoin="round"/>
<rect x="78.2" y="694.4" width="7.4" height="7.4" fill="#000"/>
<rect x="118.2" y="652.4" width="7.4" height="7.4" fill="#000"/>
<rect x="157.7" y="651.6" width="7.4" height="7.4" fill="#000"/>
<rect x="197.5" y="652.6" width="7.4" height="7.4" fill="#000"/>
<rect x="237" y="639.1" width="7.4" height="7.4" fill="#000"/>
<circle cx="121.9" cy="708.8" r="3.9" fill="#000"/>
<circle cx="161.4" cy="699.3" r="3.9" fill="#000"/>
<circle cx="201.2" cy="688.9" r="3.9" fill="#000"/>
<circle cx="240.7" cy="700.4" r="3.9" fill="#000"/>
<circle cx="121.9" cy="638.5" r="1.4" fill="#222"/>
<circle cx="161.4" cy="638" r="1.4" fill="#222"/>
<circle cx="240.7" cy="613.5" r="1.4" fill="#222"/>
<line x1="68.2" y1="609.4" x2="89" y2="609.4" stroke="#111" stroke-width="1.4" stroke-linecap="butt"/>
<circle cx="78.8" cy="609.4" r="3.7" fill="#000"/>
<text x="92.8" y="612.22" font-size="8.2" text-anchor="start" fill="#1a1a1a">DARA</text>
<line x1="68.2" y1="621.8" x2="89" y2="621.8" stroke="#111" stroke-width="1.4" stroke-linecap="butt" stroke-dasharray="2.6 2.4"/>
<rect x="75.2" y="618.2" width="7.2" height="7.2" fill="#000"/>
<text x="92.8" y="624.62" font-size="8.2" text-anchor="start" fill="#1a1a1a" textLength="54" lengthAdjust="spacingAndGlyphs">DARA + ATRA</text>
<text x="114.5" y="738" font-size="10.8" text-anchor="start" fill="#1a1a1a" textLength="94.6" lengthAdjust="spacingAndGlyphs" style="stroke-width:0.35px">Daratumumab (µg/ml)</text>
<text x="36.82" y="672" font-size="10.8" text-anchor="middle" fill="#1a1a1a" textLength="36.9" lengthAdjust="spacingAndGlyphs" transform="rotate(-90 36.82 672)" style="stroke-width:0.4px">CDC (%)</text>
<line x1="313" y1="605.5" x2="313" y2="737.7" stroke="#111" stroke-width="1.5" stroke-linecap="butt"/>
<line x1="310" y1="724.47" x2="313" y2="724.47" stroke="#111" stroke-width="1.5" stroke-linecap="butt"/>
<text x="306.5" y="727.35" font-size="9.3" text-anchor="end" fill="#1a1a1a">-10</text>
<line x1="310" y1="698.1" x2="313" y2="698.1" stroke="#111" stroke-width="1.5" stroke-linecap="butt"/>
<text x="306.5" y="700.98" font-size="9.3" text-anchor="end" fill="#1a1a1a">0</text>
<line x1="310" y1="671.73" x2="313" y2="671.73" stroke="#111" stroke-width="1.5" stroke-linecap="butt"/>
<text x="306.5" y="674.61" font-size="9.3" text-anchor="end" fill="#1a1a1a">10</text>
<line x1="310" y1="645.36" x2="313" y2="645.36" stroke="#111" stroke-width="1.5" stroke-linecap="butt"/>
<text x="306.5" y="648.24" font-size="9.3" text-anchor="end" fill="#1a1a1a">20</text>
<line x1="310" y1="618.99" x2="313" y2="618.99" stroke="#111" stroke-width="1.5" stroke-linecap="butt"/>
<text x="306.5" y="621.87" font-size="9.3" text-anchor="end" fill="#1a1a1a">30</text>
<line x1="313" y1="698.1" x2="512.1" y2="698.1" stroke="#111" stroke-width="1.5" stroke-linecap="butt"/>
<line x1="332.7" y1="698.1" x2="332.7" y2="701.3" stroke="#111" stroke-width="1.5" stroke-linecap="butt"/>
<line x1="372.7" y1="698.1" x2="372.7" y2="701.3" stroke="#111" stroke-width="1.5" stroke-linecap="butt"/>
<line x1="412.2" y1="698.1" x2="412.2" y2="701.3" stroke="#111" stroke-width="1.5" stroke-linecap="butt"/>
<line x1="451.8" y1="698.1" x2="451.8" y2="701.3" stroke="#111" stroke-width="1.5" stroke-linecap="butt"/>
<line x1="492" y1="698.1" x2="492" y2="701.3" stroke="#111" stroke-width="1.5" stroke-linecap="butt"/>
<text x="332.7" y="712.9" font-size="9.3" text-anchor="middle" fill="#1a1a1a">0</text>
<text x="372.7" y="712.9" font-size="9.3" text-anchor="middle" fill="#1a1a1a">0.01</text>
<text x="412.2" y="712.9" font-size="9.3" text-anchor="middle" fill="#1a1a1a">0.1</text>
<text x="451.8" y="712.9" font-size="9.3" text-anchor="middle" fill="#1a1a1a">1</text>
<text x="492" y="712.9" font-size="9.3" text-anchor="middle" fill="#1a1a1a">10</text>
<line x1="372.7" y1="665" x2="372.7" y2="681.3" stroke="#111" stroke-width="1.35" stroke-linecap="butt"/>
<line x1="369" y1="665" x2="376.4" y2="665" stroke="#111" stroke-width="1.35" stroke-linecap="butt"/>
<line x1="369" y1="681.3" x2="376.4" y2="681.3" stroke="#111" stroke-width="1.35" stroke-linecap="butt"/>
<line x1="412.2" y1="634.3" x2="412.2" y2="663.5" stroke="#111" stroke-width="1.35" stroke-linecap="butt"/>
<line x1="408.5" y1="634.3" x2="415.9" y2="634.3" stroke="#111" stroke-width="1.35" stroke-linecap="butt"/>
<line x1="408.5" y1="663.5" x2="415.9" y2="663.5" stroke="#111" stroke-width="1.35" stroke-linecap="butt"/>
<line x1="451.8" y1="627" x2="451.8" y2="677.8" stroke="#111" stroke-width="1.35" stroke-linecap="butt"/>
<line x1="448.1" y1="627" x2="455.5" y2="627" stroke="#111" stroke-width="1.35" stroke-linecap="butt"/>
<line x1="448.1" y1="677.8" x2="455.5" y2="677.8" stroke="#111" stroke-width="1.35" stroke-linecap="butt"/>
<line x1="492" y1="640" x2="492" y2="676.6" stroke="#111" stroke-width="1.35" stroke-linecap="butt"/>
<line x1="488.3" y1="640" x2="495.7" y2="640" stroke="#111" stroke-width="1.35" stroke-linecap="butt"/>
<line x1="488.3" y1="676.6" x2="495.7" y2="676.6" stroke="#111" stroke-width="1.35" stroke-linecap="butt"/>
<line x1="372.7" y1="657.3" x2="372.7" y2="689" stroke="#111" stroke-width="1.35" stroke-linecap="butt"/>
<line x1="369" y1="657.3" x2="376.4" y2="657.3" stroke="#111" stroke-width="1.35" stroke-linecap="butt"/>
<line x1="369" y1="689" x2="376.4" y2="689" stroke="#111" stroke-width="1.35" stroke-linecap="butt"/>
<line x1="412.2" y1="631.7" x2="412.2" y2="670.9" stroke="#111" stroke-width="1.35" stroke-linecap="butt"/>
<line x1="408.5" y1="631.7" x2="415.9" y2="631.7" stroke="#111" stroke-width="1.35" stroke-linecap="butt"/>
<line x1="408.5" y1="670.9" x2="415.9" y2="670.9" stroke="#111" stroke-width="1.35" stroke-linecap="butt"/>
<line x1="451.8" y1="608.5" x2="451.8" y2="650" stroke="#111" stroke-width="1.35" stroke-linecap="butt"/>
<line x1="448.1" y1="608.5" x2="455.5" y2="608.5" stroke="#111" stroke-width="1.35" stroke-linecap="butt"/>
<line x1="448.1" y1="650" x2="455.5" y2="650" stroke="#111" stroke-width="1.35" stroke-linecap="butt"/>
<line x1="492" y1="618.6" x2="492" y2="656" stroke="#111" stroke-width="1.35" stroke-linecap="butt"/>
<line x1="488.3" y1="618.6" x2="495.7" y2="618.6" stroke="#111" stroke-width="1.35" stroke-linecap="butt"/>
<line x1="488.3" y1="656" x2="495.7" y2="656" stroke="#111" stroke-width="1.35" stroke-linecap="butt"/>
<polyline points="332.7,698.1 372.7,673.1 412.2,649.3 451.8,629.6 492,637.7" fill="none" stroke="#111" stroke-width="1.7" stroke-linejoin="round" stroke-dasharray="5 2.7"/>
<polyline points="332.7,698.1 372.7,673.6 412.2,651.4 451.8,652.5 492,659.7" fill="none" stroke="#111" stroke-width="1.7" stroke-linejoin="round"/>
<rect x="329" y="694.4" width="7.4" height="7.4" fill="#000"/>
<rect x="369" y="669.4" width="7.4" height="7.4" fill="#000"/>
<rect x="408.5" y="645.6" width="7.4" height="7.4" fill="#000"/>
<rect x="448.1" y="625.9" width="7.4" height="7.4" fill="#000"/>
<rect x="488.3" y="634" width="7.4" height="7.4" fill="#000"/>
<circle cx="372.7" cy="673.6" r="3.9" fill="#000"/>
<circle cx="412.2" cy="651.4" r="3.9" fill="#000"/>
<circle cx="451.8" cy="652.5" r="3.9" fill="#000"/>
<circle cx="492" cy="659.7" r="3.9" fill="#000"/>
<line x1="318.5" y1="609.9" x2="339.2" y2="609.9" stroke="#111" stroke-width="1.4" stroke-linecap="butt"/>
<circle cx="328.9" cy="609.9" r="3.7" fill="#000"/>
<text x="343.1" y="612.72" font-size="8.2" text-anchor="start" fill="#1a1a1a">DARA</text>
<line x1="318.5" y1="622.4" x2="339.2" y2="622.4" stroke="#111" stroke-width="1.4" stroke-linecap="butt" stroke-dasharray="2.6 2.4"/>
<rect x="325.3" y="618.8" width="7.2" height="7.2" fill="#000"/>
<text x="343.1" y="625.22" font-size="8.2" text-anchor="start" fill="#1a1a1a" textLength="54.6" lengthAdjust="spacingAndGlyphs">DARA + ATRA</text>
<text x="366.6" y="738" font-size="10.8" text-anchor="start" fill="#1a1a1a" textLength="93.1" lengthAdjust="spacingAndGlyphs" style="stroke-width:0.35px">Daratumumab (µg/ml)</text>
<text x="287.62" y="671.7" font-size="10.8" text-anchor="middle" fill="#1a1a1a" textLength="42.7" lengthAdjust="spacingAndGlyphs" transform="rotate(-90 287.62 671.7)" style="stroke-width:0.4px">ADCC (%)</text>
<rect x="0.5" y="0.5" width="519" height="748" fill="none" stroke="#000" stroke-width="1"/>
</svg>
</body></html>
